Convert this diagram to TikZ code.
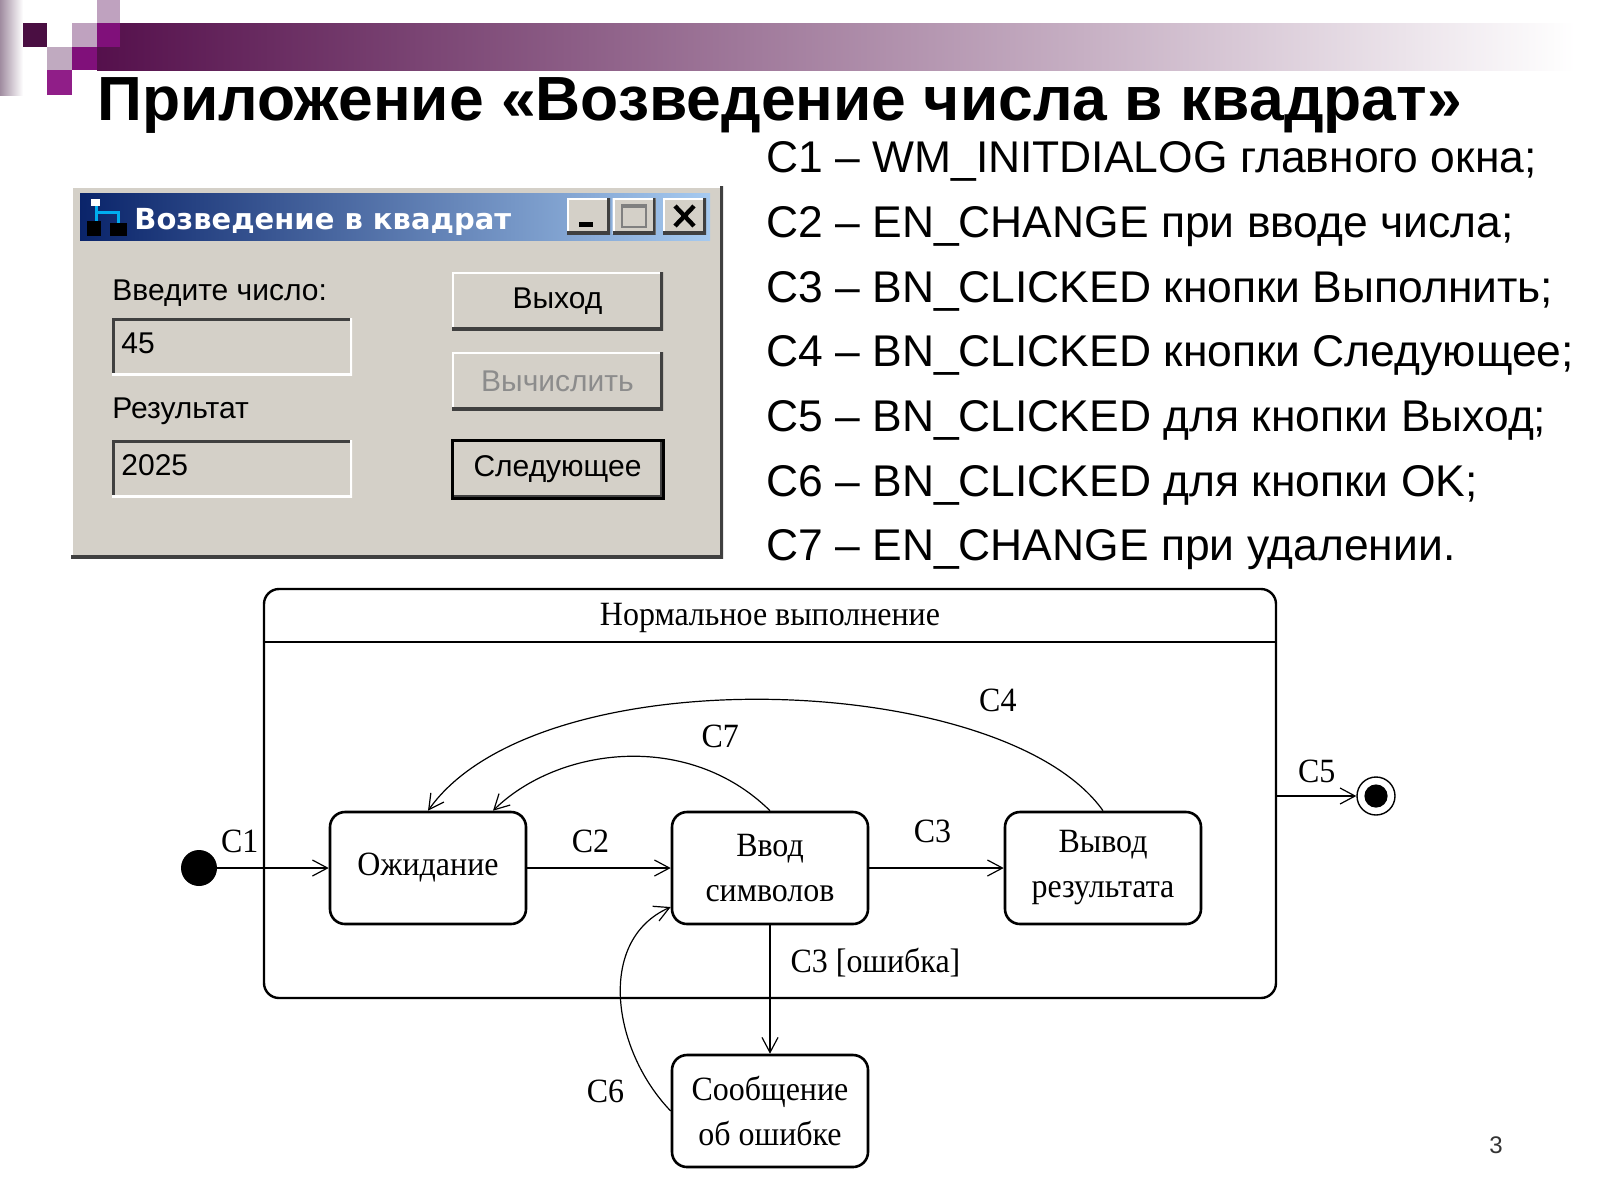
\documentclass[tikz,border=0pt]{standalone}
\usepackage{fontspec}
\setmainfont{Liberation Sans}
\newfontfamily\umlfont{Liberation Serif}[FakeStretch=0.94]
\newfontfamily\capfont{DejaVu Sans}
\usetikzlibrary{arrows.meta, positioning}

\definecolor{barpurple}{HTML}{55104C}
\definecolor{stripmauve}{HTML}{A08CA0}
\definecolor{sqdark}{HTML}{4A0E42}
\definecolor{sqlight}{HTML}{BFA2BF}
\definecolor{sqpale}{HTML}{C0AAC0}
\definecolor{sqmagenta}{HTML}{80107A}
\definecolor{sqpurple}{HTML}{901E88}
\definecolor{wingray}{HTML}{D4D0C8}
\definecolor{windark}{HTML}{404040}
\definecolor{winshade}{HTML}{808080}
\definecolor{capnavy}{HTML}{0A246A}
\definecolor{capblue}{HTML}{A6CAF0}

\tikzset{
    raised/.style={fill=wingray, inner sep=0pt, path picture={
        \draw[white, line width=2pt] (path picture bounding box.south west) |- (path picture bounding box.north east);
        \draw[windark, line width=3pt] (path picture bounding box.south west) -| (path picture bounding box.north east);}},
    sunken/.style={fill=wingray, inner sep=0pt, path picture={
        \draw[windark, line width=3pt] (path picture bounding box.south west) |- (path picture bounding box.north east);
        \draw[white, line width=2pt] (path picture bounding box.south west) -| (path picture bounding box.north east);}},
    wintext/.style={anchor=base west, inner sep=0pt, font=\fontsize{15pt}{18pt}\selectfont},
    winbtn/.style={raised, minimum width=105.5pt, minimum height=29pt, font=\fontsize{15pt}{18pt}\selectfont},
    listitem/.style={anchor=base west, inner sep=0pt, font=\fontsize{22.2pt}{26pt}\selectfont}
}

\begin{document}
\begin{tikzpicture}[x=0.5pt, y=-0.5pt,
        umlstate/.style={draw, line width=1.3pt, rounded corners=7.5pt, minimum width=98pt, minimum height=56pt,
            align=center, inner sep=2pt, font=\umlfont\fontsize{17pt}{22.5pt}\selectfont},
        container/.style={draw, line width=1.2pt, rounded corners=7.5pt, minimum width=506pt, minimum height=204.5pt, inner sep=0pt},
        initstate/.style={circle, fill=black, minimum size=18pt, inner sep=0pt},
        finalstate/.style={circle, draw, line width=0.7pt, minimum size=19pt, inner sep=0pt,
            path picture={\fill (path picture bounding box.center) circle (5.8pt);}},
        conn/.style={line width=0.6pt, -{Straight Barb[length=7.5pt, width=8pt]}},
        lbl/.style={anchor=base, inner sep=0pt, font=\umlfont\fontsize{17pt}{20pt}\selectfont}]
    \useasboundingbox (0,0) rectangle (1600,1200);
    \fill[white] (0,0) rectangle (1600,1200);

    % slide header
    \shade[left color=stripmauve, right color=white] (0,0) rectangle (23,95);
    \shade[left color=barpurple, right color=white] (97,23) rectangle (1575,70);
    \fill[sqdark] (23,23) rectangle (47,47);
    \fill[sqlight] (72,23) rectangle (97,47);
    \fill[sqlight] (97,0) rectangle (120,23);
    \fill[sqmagenta] (97,23) rectangle (120,47);
    \fill[sqpale] (47,47) rectangle (72,70);
    \fill[sqmagenta] (72,47) rectangle (97,70);
    \fill[sqpurple] (47,70) rectangle (72,95);
    \node (title) [anchor=base west, inner sep=0pt, font=\bfseries\fontsize{31.2pt}{36pt}\selectfont] at (97,120)
        {Приложение «Возведение числа в квадрат»};

    % dialog window
    \node (dlg) [raised, minimum width=326pt, minimum height=186pt] at (397,372) {};
    \shade[left color=capnavy, right color=capblue] (80,193) rectangle (710,240);
    \fill[black] (87,221) rectangle (101,236);
    \fill[black] (110,223) rectangle (127,236);
    \draw[cyan, line width=1.5pt] (96,202) -- (96,221) (96,212) -- (118,212) -- (118,223);
    \fill[white] (91,199) rectangle (100,206);
    \node (captext) [anchor=base west, inner sep=0pt, text=white, font=\capfont\bfseries\fontsize{14.5pt}{16pt}\selectfont] at (134,229)
        {Возведение в квадрат};
    \node (tbmin) [raised, minimum width=21.5pt, minimum height=18pt] at (588.5,216) {};
    \node (tbmax) [raised, minimum width=21.5pt, minimum height=18pt] at (634,216) {};
    \node (tbclose) [raised, minimum width=21.5pt, minimum height=18pt] at (684.5,216) {};
    \fill (579,222) rectangle (593,227);
    \draw[winshade, line width=1pt] (622,205) rectangle (646,227);
    \draw[winshade, line width=2pt] (622,206) -- (646,206);
    \draw[line width=2.2pt] (675,206) -- (694,226) (694,206) -- (675,226);

    \node (lblnum) [wintext] at (112,300) {Введите число:};
    \node (editnum) [sunken, minimum width=120pt, minimum height=28.5pt] at (232,346.5) {};
    \node (numval) [wintext] at (121,353) {45};
    \node (lblres) [wintext] at (112,418) {Результат};
    \node (editres) [sunken, minimum width=120pt, minimum height=28.5pt] at (232,468.5) {};
    \node (resval) [wintext] at (121,475) {2025};

    \node (btnexit) [winbtn] at (557.5,301) {Выход};
    \node (btncalc) [winbtn, text=black!45] at (557.5,381) {Вычислить};
    \node (btnnext) [winbtn, draw=black, line width=1.5pt] at (557.5,469) {Следующее};

    % legend of events
    \node (c1) [listitem] at (766,172) {C1 – WM\_INITDIALOG главного окна;};
    \node (c2) [listitem] at (766,237) {C2 – EN\_CHANGE при вводе числа;};
    \node (c3) [listitem] at (766,302) {C3 – BN\_CLICKED кнопки Выполнить;};
    \node (c4) [listitem] at (766,366) {C4 – BN\_CLICKED кнопки Следующее;};
    \node (c5) [listitem] at (766,431) {C5 – BN\_CLICKED для кнопки Выход;};
    \node (c6) [listitem] at (766,496) {C6 – BN\_CLICKED для кнопки OK;};
    \node (c7) [listitem] at (766,560) {C7 – EN\_CHANGE при удалении.};

    % state diagram
    \node (normal) [container] at (770,793.5) {};
    \draw[line width=1.2pt] ([yshift=-27pt]normal.north west) -- ([yshift=-27pt]normal.north east);
    \node (normaltitle) [lbl] at (770,625) {Нормальное выполнение};

    \node (wait) [umlstate] at (428,868) {Ожидание};
    \node (input) [umlstate, right=71.7pt of wait] {Ввод\\символов};
    \node (output) [umlstate, right=67.2pt of input] {Вывод\\результата};
    \node (error) [umlstate, below=64.2pt of input] {Сообщение\\об ошибке};
    \node (init) [initstate] at (199,868) {};
    \node (final) [finalstate] at (1376,796) {};

    \path[conn]
        (init) edge node[lbl, pos=.2, yshift=8pt] {C1} (wait)
        (wait) edge node[lbl, pos=.44, yshift=8pt] {C2} (input)
        (input) edge node[lbl, pos=.47, yshift=13pt] {C3} (output)
        (input) edge node[lbl, anchor=base west, pos=.37, xshift=10pt] {C3 [ошибка]} (error)
        (final -| normal.east) edge node[lbl, pos=.5, yshift=7pt] {C5} (final);

    \draw[conn] (output.north) .. controls (1004,671) and (539,654) .. (wait.north)
        node[lbl, pos=.25, xshift=13.25pt, yshift=9.25pt] {C4};
    \draw[conn] (input.north) .. controls (688,730) and (558,747) .. ([xshift=32.5pt]wait.north)
        node[lbl, pos=.25, xshift=9.5pt, yshift=10pt] {C7};
    \draw[conn] (error.west) .. controls (612,1050) and (596,940) .. ([yshift=-19.5pt]input.west)
        node[lbl, pos=.25, xshift=-15pt, yshift=-22pt] {C6};

    \node (pagenum) [font=\fontsize{12pt}{14pt}\selectfont, text=black!80] at (1496,1145) {3};
\end{tikzpicture}
\end{document}
